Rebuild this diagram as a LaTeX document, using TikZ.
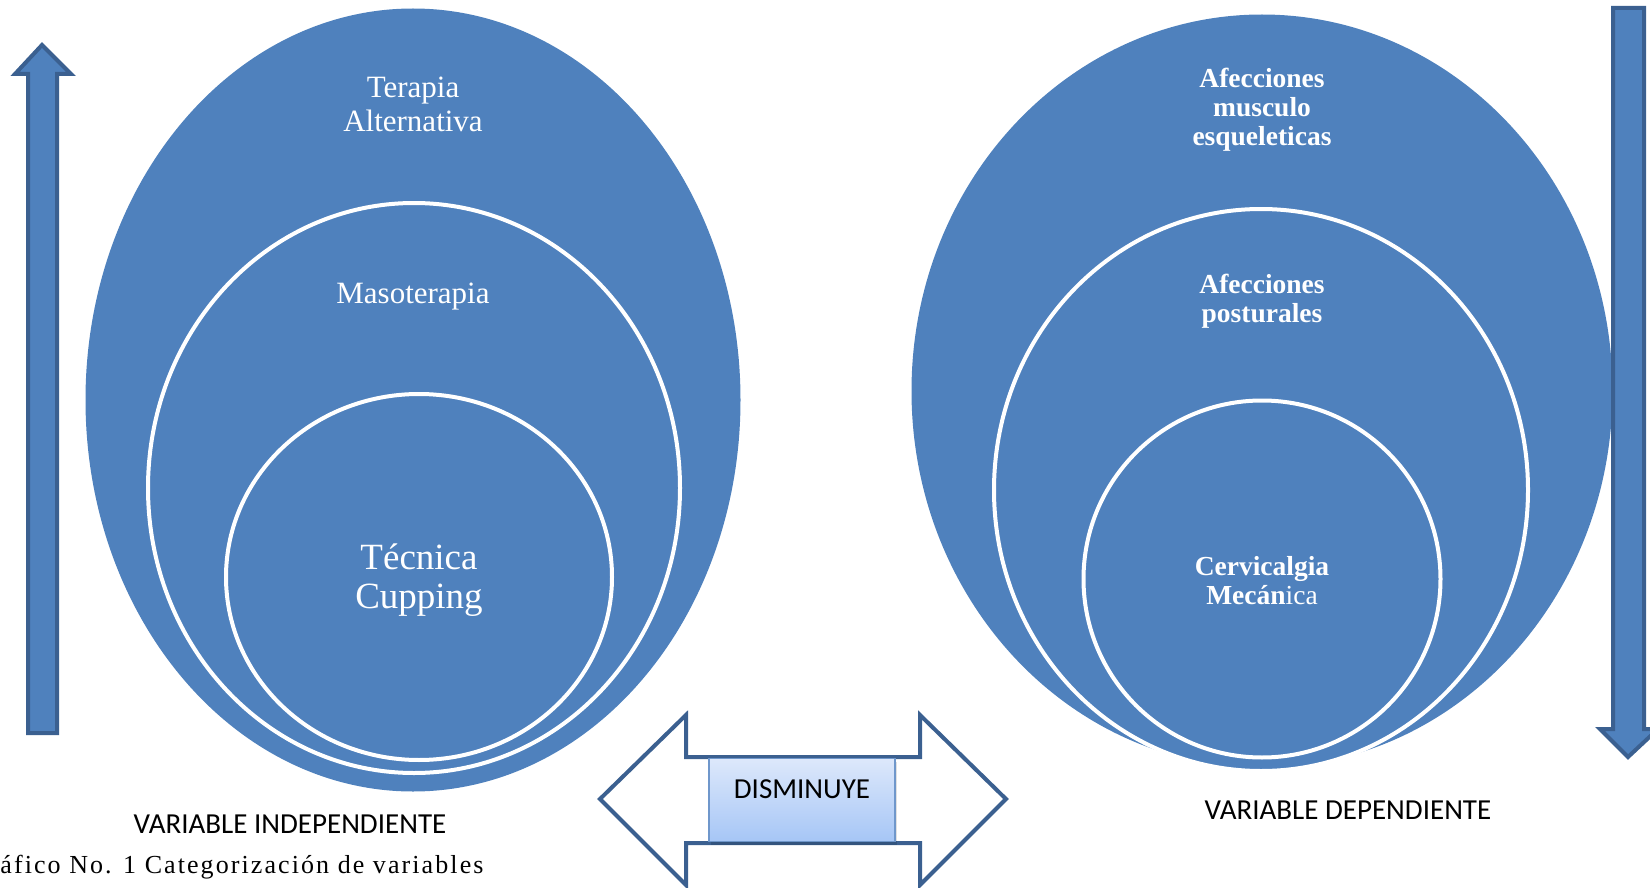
\documentclass[tikz,border=0pt]{standalone}
\usepackage{fontspec}
\setmainfont{Liberation Serif}
\newfontfamily\calib{Carlito}
\usetikzlibrary{shapes.geometric}
\definecolor{ofblue}{HTML}{4F81BD}
\definecolor{ofdark}{HTML}{3B6090}
\definecolor{boxtop}{HTML}{DDE8FB}
\definecolor{boxbot}{HTML}{A6C6F6}
\definecolor{boxline}{HTML}{6F97CB}
\tikzset{
  bigell/.style={ellipse, fill=ofblue, inner sep=0pt},
  ring/.style={ellipse, fill=ofblue, draw=white, line width=4pt, inner sep=0pt},
  lbl/.style={text=white, align=center, font=\fontsize{31}{34}\selectfont},
  blbl/.style={text=white, align=center, font=\fontsize{27.5}{29}\selectfont\bfseries},
  fatarrow/.style={fill=ofblue, draw=ofdark, line width=4pt, line join=miter},
  dblarrow/.style={fill=white, draw=ofdark, line width=4pt, line join=miter},
  varlbl/.style={font=\calib\fontsize{29}{34}\selectfont, text=black}
}
\begin{document}
\begin{tikzpicture}[x=1pt,y=-1pt]
\useasboundingbox (0,0) rectangle (1650,888);
\clip (0,0) rectangle (1650,888);
% left nested ellipses
\node[bigell, minimum width=655, minimum height=783] (L1) at (413,400) {};
\node[ring, minimum width=532, minimum height=570] (L2) at (414,488) {};
\node[ring, minimum width=386, minimum height=366] (L3) at (419,577) {};
\node[lbl] (t1) at (413,104) {Terapia\\Alternativa};
\node[lbl] (t2) at (413,297) {Masoterapia};
\node[lbl, font=\fontsize{37}{39}\selectfont] (t3) at (419,580) {Técnica\\Cupping};
% right nested ellipses
\node[bigell, minimum width=701, minimum height=753] (R1) at (1262,391) {};
\node[ring, minimum width=534, minimum height=562] (R2) at (1261,490) {};
\node[ring, minimum width=357, minimum height=357] (R3) at (1262,579) {};
\node[blbl] (s1) at (1262,110) {Afecciones\\musculo\\esqueleticas};
\node[blbl] (s2) at (1262,301) {Afecciones\\posturales};
\node[blbl] (s3) at (1262,581) {Cervicalgia\\Mecán\mdseries ica};
% left up arrow
\draw[fatarrow] (42,45) -- (71,74) -- (57,74) -- (57,733) -- (28,733) -- (28,74) -- (15,74) -- cycle;
% right down arrow
\draw[fatarrow] (1628,757) -- (1600,729) -- (1613,729) -- (1613,8) -- (1644,8) -- (1644,729) -- (1658,729) -- cycle;
% double arrow
\draw[dblarrow] (600,799) -- (686,715) -- (686,757) -- (920,757) -- (920,715) -- (1006,799) -- (920,885) -- (920,843) -- (686,843) -- (686,885) -- cycle;
\fill[black, opacity=0.12] (711,762) rectangle (897,845);
\node[draw=boxline, line width=1.5pt, top color=boxtop, bottom color=boxbot, minimum width=186, minimum height=83, inner sep=0pt] (dis) at (802,800) {};
\node[font=\calib\fontsize{29}{34}\selectfont] (dt) at (802,789) {DISMINUYE};
% labels
\node[varlbl] (vi) at (290,824) {VARIABLE INDEPENDIENTE};
\node[varlbl] (vd) at (1348,810) {VARIABLE DEPENDIENTE};
\node[anchor=east, font=\fontsize{26}{30}\selectfont\addfontfeatures{LetterSpace=8}] (cap) at (487,867) {Gráfico No. 1 Categorización de variables};
\end{tikzpicture}
\end{document}
